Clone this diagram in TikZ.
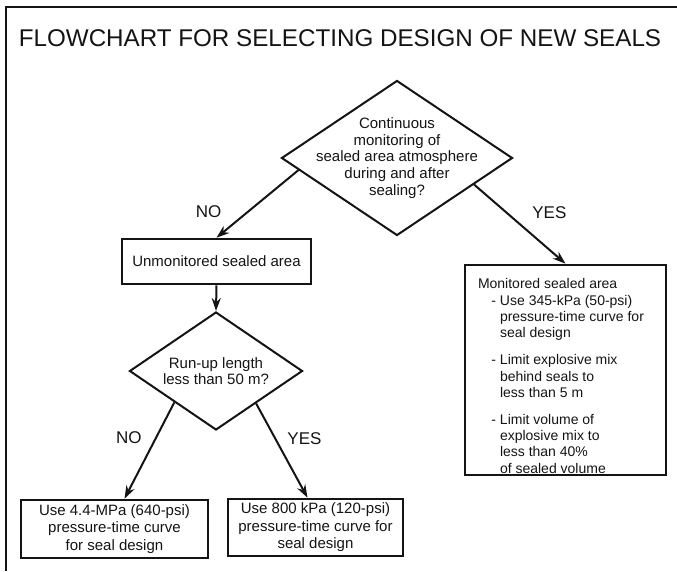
\documentclass[tikz,border=0pt]{standalone}
\usepackage{fontspec}
\setmainfont{Liberation Sans}
\usepackage{tikz}
\usetikzlibrary{arrows.meta}
\usetikzlibrary{shapes.geometric}
\definecolor{encre}{rgb}{0.08,0.08,0.08}
\newcommand{\puce}{\llap{-\hspace{4pt}}}

\begin{document}
\begin{tikzpicture}[x=1pt, y=-1pt, ->, >={Stealth[length=13pt,width=9pt]}, line width=2pt, encre]
  \tikzstyle{decision}=[diamond, draw, inner sep=0pt, minimum width=231pt, minimum height=155pt]
  \tikzstyle{question}=[align=center, inner sep=0pt, font=\fontsize{15}{16.7}\selectfont]
  \tikzstyle{action}=[rectangle, draw, line width=2.6pt, align=center, inner sep=0pt, font=\fontsize{15}{17.5}\selectfont]
  \tikzstyle{notes}=[anchor=north west, align=left, inner sep=0pt, font=\fontsize{14}{16.3}\selectfont]
  \tikzstyle{answer}=[font=\fontsize{17}{20}\selectfont]

  \useasboundingbox (0,0) rectangle (677,571);
  \draw[-, line width=2.8pt] (6,571) -- (6,7) -- (677,7);

  \node[font=\fontsize{24.2}{28}\selectfont] (title) at (340,38) {FLOWCHART FOR SELECTING DESIGN OF NEW SEALS};

	\node[decision]         (Q0) at (397,158) {};
	\node[question]         (T0) at (Q0) {Continuous\\monitoring of\\sealed area atmosphere\\during and after\\sealing?};
	\node[action, minimum width=189pt, minimum height=45pt]  (U) at (216.5,261.5) {Unmonitored sealed area};
	\node[decision, minimum width=173pt, minimum height=118pt] (Q1) at (216,371) {};
	\node[question]         (T1) at (Q1) {Run-up length\\less than 50 m?};
	\node[action, minimum width=187pt, minimum height=58pt]  (B1) at (114.5,529) {Use 4.4-MPa (640-psi)\\pressure-time curve\\for seal design};
	\node[action, minimum width=175pt, minimum height=57pt]  (B2) at (315.5,527.5) {Use 800 kPa (120-psi)\\pressure-time curve for\\seal design};
	\node[action, minimum width=201pt, minimum height=210pt] (M) at (565.5,370) {};
	\node[notes]            (Mt) at (477,277) {Monitored sealed area\\[0.7pt]
		\hspace*{22pt}\puce Use 345-kPa (50-psi)\\
		\hspace*{22pt}pressure-time curve for\\
		\hspace*{22pt}seal design\\[10.7pt]
		\hspace*{22pt}\puce Limit explosive mix\\
		\hspace*{22pt}behind seals to\\
		\hspace*{22pt}less than 5 m\\[10.7pt]
		\hspace*{22pt}\puce Limit volume of\\
		\hspace*{22pt}explosive mix to\\
		\hspace*{22pt}less than 40\%\\
		\hspace*{22pt}of sealed volume};

	\path
		(Q0.187) edge node[answer, pos=0.62, left=22pt] {NO} (U.north)
		(Q0.341.6) edge node[answer, pos=0.36, right=21pt] {YES} (M.north)
		(U.south) edge (Q1.north)
		(Q1.217) edge node[answer, pos=0.37, left=10pt] {NO} ([xshift=10pt]B1.north)
		(Q1.321) edge node[answer, pos=0.37, right=8pt] {YES} ([xshift=-8pt]B2.north)
		;

\end{tikzpicture}
\end{document}
